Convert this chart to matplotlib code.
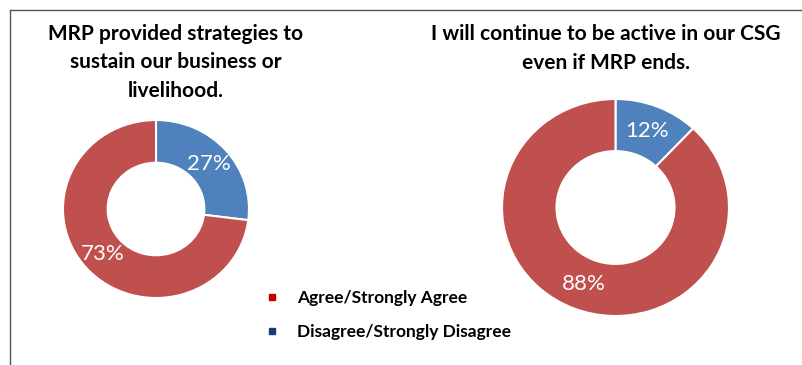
import matplotlib.pyplot as plt
from matplotlib.lines import Line2D

plt.rcParams['font.family'] = ['Lato', 'DejaVu Sans']

categories = ['Disagree/Strongly Disagree', 'Agree/Strongly Agree']
titles = ['MRP provided strategies to\nsustain our business or\nlivelihood.',
          'I will continue to be active in our CSG\neven if MRP ends.']
values_left = [27, 73]
values_right = [12, 88]
colors = ['#4F81BD', '#C0504D']

W, H = 802, 365
fig = plt.figure(figsize=(W / 100, H / 100), dpi=100)


def donut(cx, cy, rx, ry, vals):
    # the source picture is a bit stretched sideways, so the axes are not square
    ax = fig.add_axes([(cx - rx) / W, (H - cy - ry) / H, 2 * rx / W, 2 * ry / H])
    ax.pie(vals, colors=colors, startangle=90, counterclock=False, radius=1,
           autopct='%d%%', pctdistance=0.76,
           wedgeprops=dict(width=0.48, edgecolor='white', linewidth=1.5),
           textprops=dict(color='white', fontsize=16))
    ax.set_xlim(-1, 1)
    ax.set_ylim(-1, 1)
    ax.set_aspect('auto')
    ax.axis('off')


donut(156, 209, 93, 89, values_left)
donut(615.5, 207.5, 113.5, 108.5, values_right)

fig.text(175.5 / W, 1 - 62.5 / H, titles[0], ha='center', va='center',
         fontsize=15, fontweight='bold', linespacing=1.52)
fig.text(606 / W, 1 - 48.5 / H, titles[1], ha='center', va='center',
         fontsize=15, fontweight='bold', linespacing=1.52)

# legend
handles = [Line2D([], [], ls='', marker='s', markersize=4, color='#C00000'),
           Line2D([], [], ls='', marker='s', markersize=4, color='#1F3A78')]
fig.legend(handles, [categories[1], categories[0]], loc='center left',
           bbox_to_anchor=(248 / W, 1 - 315 / H), frameon=False,
           prop=dict(size=12.5, weight='bold'), handlelength=1.0,
           handletextpad=0.95, labelspacing=1.05)

# frame lines
fig.add_artist(Line2D([9.5 / W, 9.5 / W], [0, 1 - 9.5 / H], color='#555555', lw=1,
                      transform=fig.transFigure))
fig.add_artist(Line2D([9.5 / W, 1], [1 - 9.5 / H, 1 - 9.5 / H], color='#555555', lw=1,
                      transform=fig.transFigure))

fig.savefig('out.png', dpi=100)
